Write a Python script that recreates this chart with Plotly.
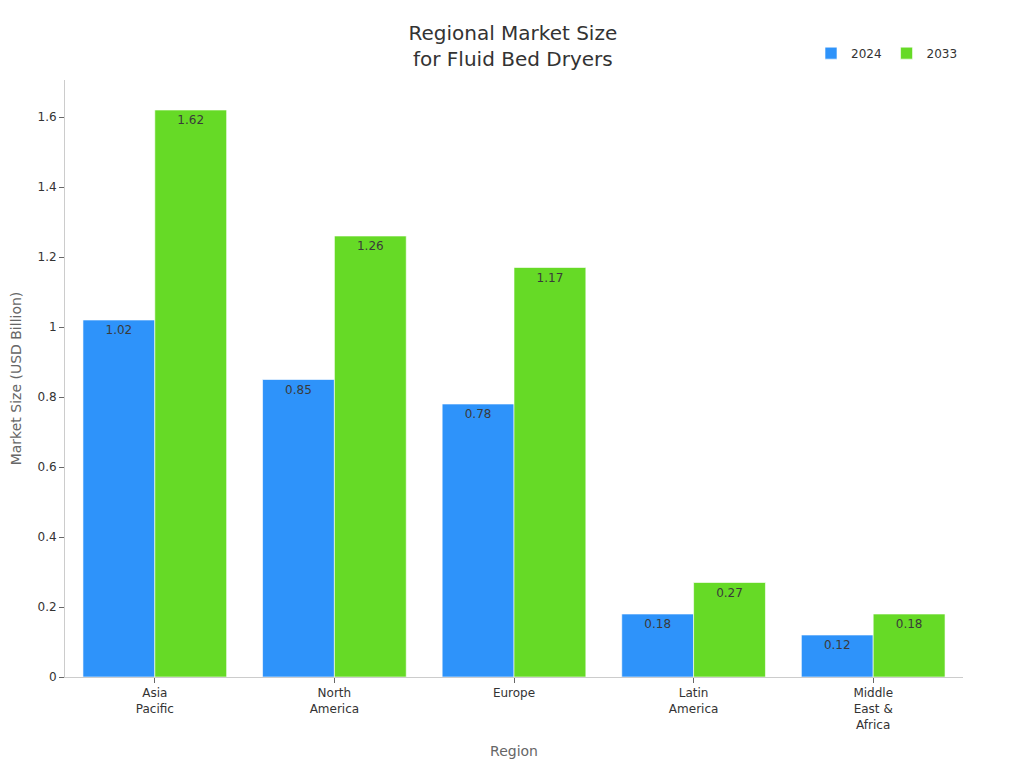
import plotly.graph_objects as go

regions = ["Asia<br>Pacific", "North<br>America", "Europe", "Latin<br>America", "Middle<br>East &<br>Africa"]
values_2024 = [1.02, 0.85, 0.78, 0.18, 0.12]
values_2033 = [1.62, 1.26, 1.17, 0.27, 0.18]

fnt = "DejaVu Sans, Verdana, sans-serif"

fig = go.Figure()
fig.add_trace(go.Bar(
    name="2024", x=regions, y=values_2024,
    marker=dict(color="#2E93FA", line=dict(color="rgba(255,255,255,0.6)", width=1)),
    text=[f"{v:g}" for v in values_2024], textposition="inside", insidetextanchor="end",
    textfont=dict(color="#3a3a3a", size=12, family=fnt),
))
fig.add_trace(go.Bar(
    name="2033", x=regions, y=values_2033,
    marker=dict(color="#66DA26", line=dict(color="rgba(255,255,255,0.6)", width=1)),
    text=[f"{v:g}" for v in values_2033], textposition="inside", insidetextanchor="end",
    textfont=dict(color="#3a3a3a", size=12, family=fnt),
))

fig.update_layout(
    width=1024, height=768,
    paper_bgcolor="white", plot_bgcolor="white",
    font=dict(family=fnt, color="#333"),
    barmode="group", bargap=0.2, bargroupgap=0,
    margin=dict(l=57, r=69, t=72, b=99),
    title=dict(text="Regional Market Size<br>for Fluid Bed Dryers", x=0.493, xanchor="center",
               y=0.958, yanchor="middle", font=dict(size=20, color="#333", family=fnt)),
    legend=dict(orientation="h", x=1.0, xanchor="right", y=1.045, yanchor="middle",
                font=dict(size=12, color="#333"), bgcolor="rgba(0,0,0,0)"),
    uniformtext=dict(minsize=8, mode="show"),
)
fig.update_xaxes(
    title=dict(text="Region", font=dict(size=14, color="#666"), standoff=15),
    showline=True, linecolor="#ccc", linewidth=1, ticks="outside", ticklen=5, tickcolor="#666",
    tickfont=dict(size=12, color="#333"), showgrid=False, automargin=False,
)
fig.update_yaxes(
    title=dict(text="Market Size (USD Billion)", font=dict(size=14, color="#666"), standoff=15),
    range=[0, 1.7057], tickvals=[0, 0.2, 0.4, 0.6, 0.8, 1, 1.2, 1.4, 1.6],
    ticktext=["0", "0.2", "0.4", "0.6", "0.8", "1", "1.2", "1.4", "1.6"],
    showline=True, linecolor="#ccc", linewidth=1, ticks="outside", ticklen=5, tickcolor="#666",
    tickfont=dict(size=12, color="#333"), showgrid=False, zeroline=False, automargin=False,
)

fig.write_html("out.html")
